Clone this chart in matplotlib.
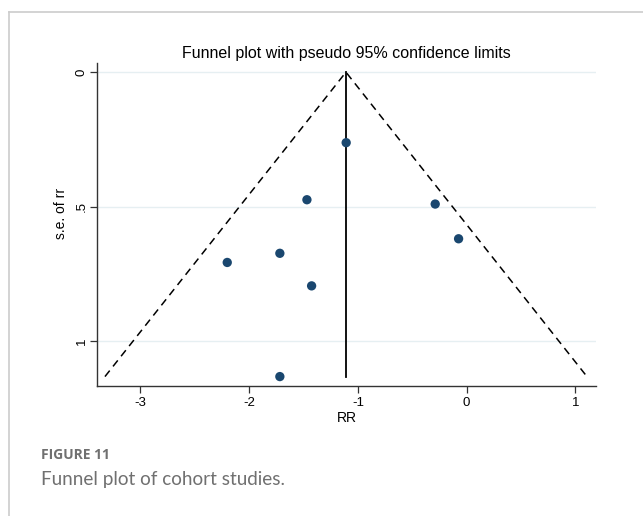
import matplotlib
matplotlib.use("Agg")
import matplotlib.pyplot as plt
from matplotlib.lines import Line2D

# study estimates (log RR) and their standard errors
log_rr = [-1.108, -1.469, -0.289, -0.074, -1.718, -2.202, -1.426, -1.718]
se_rr = [0.262, 0.474, 0.490, 0.619, 0.673, 0.707, 0.794, 1.131]
pooled = -1.11

x_ticks = [-3, -2, -1, 0, 1]
x_labels = ["-3", "-2", "-1", "0", "1"]
y_ticks = [0, 0.5, 1]
y_labels = ["0", ".5", "1"]

NAVY = "#1a476f"
GRID = "#e6eff2"
FRAME = "#cccccc"
CAPTION = "#707070"

fig = plt.figure(figsize=(6.43, 5.16), dpi=100)
fig.patch.set_facecolor("white")

# light frame round the figure box (left and top edges)
fig.add_artist(Line2D([9 / 643, 9 / 643], [0, 1 - 12 / 516], color=FRAME, lw=1.2))
fig.add_artist(Line2D([9 / 643, 1], [1 - 12 / 516, 1 - 12 / 516], color=FRAME, lw=1.2))

ax = fig.add_axes([97 / 643, 1 - 386 / 516, (596 - 97) / 643, (386 - 63) / 516])

# pseudo 95% limits
max_se = max(se_rr)
ax.plot([pooled - 1.96 * max_se, pooled, pooled + 1.96 * max_se], [max_se, 0, max_se],
        color="black", lw=1.1, ls=(0, (5, 3.5)), zorder=2)
ax.plot([pooled, pooled], [0, max_se], color="black", lw=1.3, zorder=2)

ax.scatter(log_rr, se_rr, s=45, color=NAVY, edgecolors="none", zorder=3)

ax.set_xlim(-3.40, 1.19)
ax.set_ylim(1.166, -0.034)

ax.set_xticks(x_ticks)
ax.set_xticklabels(x_labels, fontsize=9.5, family="Liberation Sans")
ax.set_yticks(y_ticks)
ax.set_yticklabels(y_labels, fontsize=9.5, family="Liberation Sans", rotation=90, va="center")
ax.tick_params(direction="out", length=5, width=0.9, color="#333333", pad=3)
ax.tick_params(axis="y", pad=1.5)

for y in y_ticks:
    ax.axhline(y, color=GRID, lw=1.0, zorder=0)

for side in ["top", "right"]:
    ax.spines[side].set_visible(False)
for side in ["left", "bottom"]:
    ax.spines[side].set_color("#333333")
    ax.spines[side].set_linewidth(1.0)

ax.set_xlabel("RR", fontsize=10, family="Liberation Sans", labelpad=1.5)
ax.set_ylabel("s.e. of rr", fontsize=10, family="Liberation Sans")
ax.yaxis.set_label_coords(-0.058, 0.535)
ax.set_title("Funnel plot with pseudo 95% confidence limits", fontsize=11.5,
             family="Liberation Sans", pad=3.6)

fig.text(41 / 643, 1 - 455 / 516, "FIGURE 11", fontsize=10, fontweight="bold",
         color=CAPTION, family="Open Sans", va="center")
fig.text(41 / 643, 1 - 479 / 516, "Funnel plot of cohort studies.", fontsize=13.6,
         color=CAPTION, family="Lato", va="center")

fig.savefig("out.png", dpi=100)
